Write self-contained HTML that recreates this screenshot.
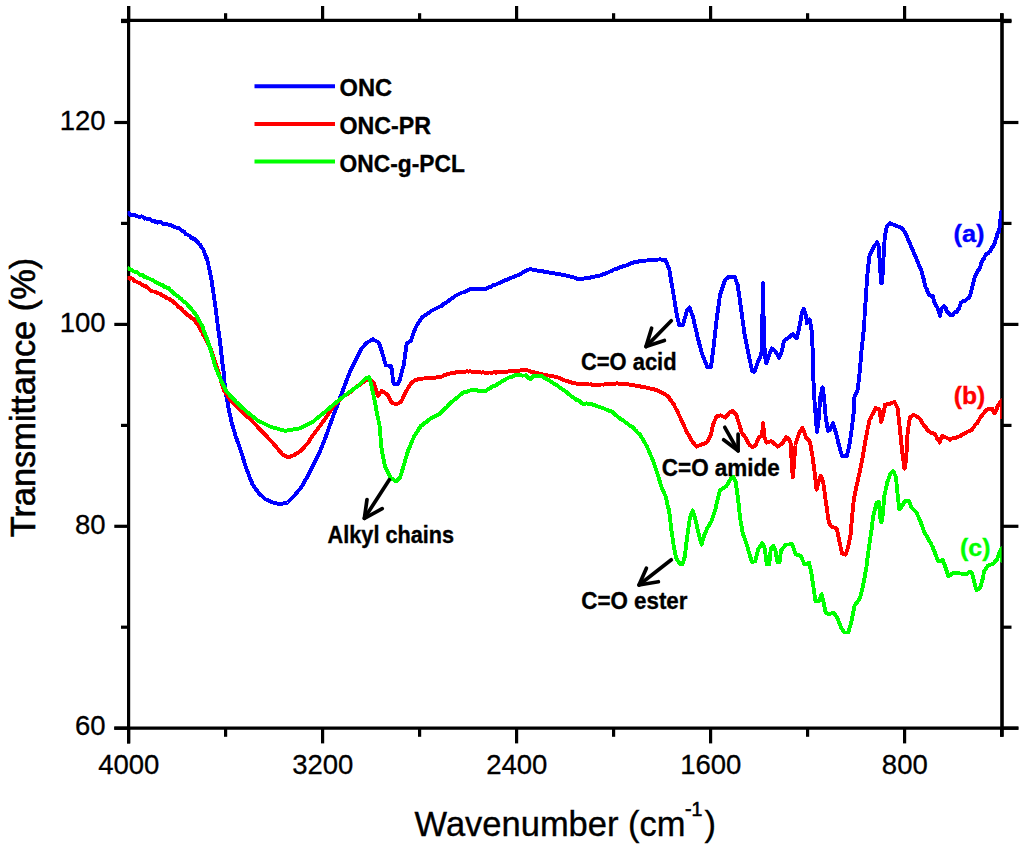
<!DOCTYPE html>
<html lang="en">
<head>
<meta charset="utf-8">
<title>FTIR spectra</title>
<style>
html,body{margin:0;padding:0;background:#fff;}
body{width:1024px;height:851px;overflow:hidden;}
svg{display:block;}
</style>
</head>
<body>
<svg width="1024" height="851" viewBox="0 0 1024 851">
<rect width="1024" height="851" fill="#fff"/>
<g stroke="#000" stroke-width="3.2" fill="none" stroke-linecap="butt">
<line x1="128.6" y1="6" x2="128.6" y2="743.4"/>
<line x1="1002.0" y1="13.2" x2="1002.0" y2="736.8" stroke-width="3.6"/>
<line x1="121" y1="20.3" x2="1011.5" y2="20.3"/>
<line x1="114.3" y1="728.2" x2="1018.4" y2="728.2"/>
<line x1="128.6" y1="728.2" x2="128.6" y2="743.4"/>
<line x1="128.6" y1="20.3" x2="128.6" y2="6"/>
<line x1="322.6" y1="728.2" x2="322.6" y2="743.4"/>
<line x1="322.6" y1="20.3" x2="322.6" y2="6"/>
<line x1="516.6" y1="728.2" x2="516.6" y2="743.4"/>
<line x1="516.6" y1="20.3" x2="516.6" y2="6"/>
<line x1="710.6" y1="728.2" x2="710.6" y2="743.4"/>
<line x1="710.6" y1="20.3" x2="710.6" y2="6"/>
<line x1="904.6" y1="728.2" x2="904.6" y2="743.4"/>
<line x1="904.6" y1="20.3" x2="904.6" y2="6"/>
<line x1="225.6" y1="728.2" x2="225.6" y2="736.8"/>
<line x1="225.6" y1="20.3" x2="225.6" y2="13.2"/>
<line x1="419.6" y1="728.2" x2="419.6" y2="736.8"/>
<line x1="419.6" y1="20.3" x2="419.6" y2="13.2"/>
<line x1="613.6" y1="728.2" x2="613.6" y2="736.8"/>
<line x1="613.6" y1="20.3" x2="613.6" y2="13.2"/>
<line x1="807.6" y1="728.2" x2="807.6" y2="736.8"/>
<line x1="807.6" y1="20.3" x2="807.6" y2="13.2"/>
<line x1="1001.6" y1="728.2" x2="1001.6" y2="736.8"/>
<line x1="1001.6" y1="20.3" x2="1001.6" y2="13.2"/>
<line x1="114.3" y1="728.2" x2="128.6" y2="728.2"/>
<line x1="1002.0" y1="728.2" x2="1018.4" y2="728.2"/>
<line x1="114.3" y1="526.3" x2="128.6" y2="526.3"/>
<line x1="1002.0" y1="526.3" x2="1018.4" y2="526.3"/>
<line x1="114.3" y1="324.4" x2="128.6" y2="324.4"/>
<line x1="1002.0" y1="324.4" x2="1018.4" y2="324.4"/>
<line x1="114.3" y1="122.5" x2="128.6" y2="122.5"/>
<line x1="1002.0" y1="122.5" x2="1018.4" y2="122.5"/>
<line x1="121" y1="627.2" x2="128.6" y2="627.2"/>
<line x1="1002.0" y1="627.2" x2="1011.5" y2="627.2"/>
<line x1="121" y1="425.4" x2="128.6" y2="425.4"/>
<line x1="1002.0" y1="425.4" x2="1011.5" y2="425.4"/>
<line x1="121" y1="223.4" x2="128.6" y2="223.4"/>
<line x1="1002.0" y1="223.4" x2="1011.5" y2="223.4"/>
<line x1="121" y1="21.5" x2="128.6" y2="21.5"/>
<line x1="1002.0" y1="21.5" x2="1011.5" y2="21.5"/>
</g>
<clipPath id="pc"><rect x="127.6" y="22" width="874" height="704.5"/></clipPath>
<g fill="none" stroke-width="3.9" stroke-linejoin="round" stroke-linecap="round" clip-path="url(#pc)" shape-rendering="crispEdges">
<polyline stroke="#0000ff" points="128.6,212.9 129.8,214.7 131.4,215.0 133.0,214.5 134.7,215.3 136.3,215.7 137.9,216.5 139.5,217.1 141.1,216.4 142.8,216.7 144.4,218.7 146.0,218.4 147.7,219.5 149.3,218.6 150.9,219.9 152.5,220.9 154.2,220.5 155.8,222.3 157.4,222.7 159.0,221.7 160.6,222.1 162.3,223.4 163.9,224.5 165.5,224.0 167.2,224.1 168.8,224.9 170.4,224.8 172.1,225.7 173.7,226.7 175.3,227.5 177.0,227.6 178.6,228.2 180.0,229.1 181.4,230.5 182.8,231.1 184.2,231.6 185.6,234.0 187.0,234.4 188.4,235.5 189.8,235.6 191.2,238.0 192.6,238.8 193.9,238.4 195.3,239.8 196.7,241.4 198.1,242.4 199.1,244.3 200.1,244.8 201.1,247.0 202.0,248.2 203.0,249.0 204.0,251.0 204.6,253.2 205.1,254.8 205.7,255.8 206.2,257.6 206.8,258.3 207.3,260.4 207.9,262.5 208.3,264.2 208.6,266.0 209.0,267.7 209.4,269.4 209.7,271.2 210.1,272.9 210.5,274.6 210.8,276.4 211.2,278.1 211.4,279.7 211.7,281.4 211.9,283.0 212.2,284.6 212.4,286.3 212.7,287.9 212.9,289.5 213.2,291.2 213.4,292.8 213.7,294.4 213.9,296.1 214.2,297.7 214.4,299.4 214.6,301.0 214.8,302.7 215.1,304.4 215.3,306.1 215.5,307.7 215.7,309.4 215.9,311.1 216.1,312.7 216.3,314.4 216.6,316.1 216.8,317.8 217.0,319.4 217.2,321.1 217.4,322.8 217.6,324.4 217.9,326.1 218.1,327.7 218.3,329.4 218.5,331.0 218.8,332.7 219.0,334.3 219.2,336.0 219.4,337.6 219.7,339.3 219.9,340.9 220.1,342.6 220.3,344.2 220.5,345.9 220.7,347.5 220.8,349.2 221.0,350.8 221.2,352.5 221.4,354.1 221.6,355.8 221.8,357.4 221.9,359.1 222.1,360.7 222.3,362.4 222.5,364.0 222.8,365.8 223.0,367.6 223.3,369.4 223.5,371.2 223.8,373.0 223.9,374.7 224.1,376.4 224.2,378.1 224.4,379.8 224.5,381.5 224.6,383.2 224.8,384.9 224.9,386.6 225.1,388.3 225.2,390.0 225.5,391.7 225.8,393.5 226.2,395.2 226.5,396.9 226.8,398.7 227.1,400.4 227.5,402.1 227.8,403.9 228.1,405.6 228.4,407.3 228.8,409.1 229.2,410.8 229.5,412.6 229.8,414.3 230.2,416.0 230.6,417.8 230.9,419.5 231.2,421.2 231.7,422.8 232.2,424.4 232.6,425.9 233.1,427.5 233.6,429.1 234.0,430.6 234.5,432.2 235.0,433.8 235.4,435.3 235.9,436.9 236.5,438.5 237.0,440.0 237.6,441.6 238.1,443.1 238.7,444.7 239.2,446.3 239.8,447.8 240.3,449.4 240.8,450.9 241.4,452.5 241.9,454.1 242.3,455.6 242.8,457.2 243.3,458.7 243.8,460.3 244.2,461.9 244.7,463.4 245.2,465.0 245.6,466.5 246.1,468.1 246.7,469.7 247.3,471.2 248.0,472.8 248.6,474.4 249.2,475.9 249.8,477.5 250.4,479.1 251.1,480.6 251.7,482.2 252.3,483.8 253.2,485.1 254.1,486.4 255.0,487.8 255.9,489.1 256.8,490.4 257.7,491.8 258.6,493.1 260.0,494.4 261.4,495.6 262.8,496.9 264.2,498.1 265.6,499.4 267.2,500.0 268.7,500.7 270.3,501.4 271.9,502.0 273.4,502.6 275.0,503.3 277.1,503.5 279.2,503.8 281.2,504.0 282.8,503.6 284.4,503.2 285.9,502.9 287.5,502.5 288.8,501.2 290.0,500.0 291.2,498.8 292.5,497.5 293.8,496.2 294.9,494.9 296.0,493.6 297.1,492.2 298.2,490.9 299.4,489.6 300.5,488.2 301.6,486.9 302.5,485.3 303.4,483.8 304.3,482.2 305.1,480.6 306.0,479.0 306.9,477.5 307.8,475.9 308.6,474.3 309.4,472.8 310.1,471.2 310.9,469.7 311.7,468.1 312.5,466.5 313.3,465.0 314.0,463.4 314.8,461.9 315.6,460.3 316.4,458.7 317.2,457.2 317.9,455.6 318.7,454.1 319.5,452.5 320.1,450.9 320.8,449.4 321.4,447.8 322.0,446.3 322.6,444.7 323.3,443.1 323.9,441.6 324.5,440.0 325.2,438.5 325.8,436.9 326.3,435.3 326.9,433.8 327.4,432.2 328.0,430.6 328.5,429.1 329.1,427.5 329.6,425.9 330.2,424.4 330.7,422.8 331.2,421.2 331.8,419.7 332.4,418.1 333.0,416.6 333.6,415.0 334.2,413.4 334.8,411.9 335.4,410.3 336.0,408.7 336.6,407.2 337.2,405.6 337.8,404.0 338.4,402.5 338.9,400.9 339.5,399.4 340.1,397.8 340.7,396.2 341.3,394.7 341.8,393.1 342.4,391.6 343.0,390.0 343.6,388.5 344.1,387.0 344.7,385.5 345.3,384.0 345.8,382.5 346.4,381.0 347.0,379.5 347.6,378.0 348.1,376.5 348.7,375.0 349.3,373.5 349.8,372.0 350.4,370.5 351.2,369.0 351.9,367.5 352.7,366.0 353.5,364.5 354.2,363.0 355.0,361.5 355.7,360.0 356.5,358.5 357.2,357.0 357.9,355.6 358.7,354.1 359.4,352.6 360.2,351.1 360.9,349.6 362.0,348.2 363.1,346.9 364.3,345.5 365.4,344.2 366.5,342.8 368.1,341.9 369.8,341.1 371.4,340.2 373.0,339.4 374.4,340.2 375.9,340.9 377.4,341.7 378.8,342.5 379.4,344.2 380.0,345.9 380.6,347.6 381.1,349.3 381.7,351.0 382.3,352.7 382.7,354.3 383.1,355.8 383.6,357.4 384.0,358.9 384.4,360.5 384.9,362.1 385.3,363.6 385.7,365.2 387.5,365.5 389.2,365.9 391.0,366.2 391.4,368.1 391.9,370.1 392.3,372.0 392.4,373.8 392.5,375.6 392.6,377.4 392.7,379.2 392.8,381.0 393.4,382.6 394.0,384.3 395.8,384.3 397.6,384.3 398.6,382.4 399.6,380.5 400.0,378.9 400.4,377.3 400.9,375.7 401.3,374.1 401.7,372.5 402.1,370.9 402.5,369.3 403.0,367.7 403.4,366.1 403.8,364.5 404.0,362.8 404.2,361.2 404.5,359.5 404.7,357.8 404.9,356.2 405.1,354.5 405.4,352.8 405.6,351.2 405.8,349.5 406.2,347.4 406.5,345.3 406.9,343.2 408.9,342.1 410.8,341.0 411.4,339.3 411.9,337.7 412.5,336.0 413.0,334.4 413.6,332.7 414.4,330.8 415.1,328.9 415.9,327.0 416.9,325.4 417.9,323.9 418.9,322.3 419.8,320.7 420.8,319.2 421.8,317.6 423.2,316.6 424.6,315.6 426.0,314.6 427.4,313.7 428.8,312.7 430.2,311.7 431.6,310.7 433.2,309.9 434.8,309.1 436.5,308.3 438.1,307.5 439.7,306.7 441.3,306.1 442.7,304.8 444.2,303.6 445.6,302.9 447.0,302.0 448.5,300.9 449.9,299.7 451.3,298.7 452.7,297.7 454.2,296.9 455.6,295.7 457.2,294.9 458.7,294.3 460.3,293.3 461.9,292.6 463.4,292.4 465.0,291.9 466.6,290.9 468.1,290.1 469.7,289.3 471.2,288.8 473.0,289.2 474.7,289.1 476.4,289.0 478.1,289.3 479.8,288.9 481.5,289.1 483.2,289.5 484.9,289.3 486.4,288.5 487.9,287.7 489.5,287.2 491.0,286.8 492.5,285.4 494.0,285.3 495.6,284.6 497.1,284.0 498.6,283.2 500.1,282.6 501.6,281.8 503.1,281.2 504.6,280.5 506.1,279.7 507.6,279.7 509.1,278.8 510.6,278.0 512.1,277.6 513.6,277.0 515.1,276.3 516.6,275.7 518.1,275.2 519.6,274.5 521.0,273.7 522.5,272.8 524.0,271.7 525.4,271.1 526.9,270.2 528.3,269.7 529.8,269.2 531.4,269.4 532.9,269.8 534.5,270.1 536.1,270.0 537.6,270.8 539.2,271.0 540.8,270.9 542.4,271.2 543.9,271.5 545.5,272.4 547.1,272.3 548.8,272.4 550.4,273.0 552.0,273.1 553.6,273.1 555.2,273.5 556.9,274.0 558.5,274.0 560.1,274.3 561.8,274.8 563.4,274.9 565.0,275.1 566.7,275.7 568.4,275.8 570.1,276.5 571.9,277.0 573.6,277.4 575.3,277.8 577.0,278.8 578.7,279.0 580.3,278.6 581.9,278.8 583.5,278.8 585.2,278.1 586.8,277.9 588.4,277.9 590.0,277.9 591.5,277.1 593.1,277.1 594.6,276.7 596.2,276.2 597.8,275.6 599.3,275.7 600.9,275.2 602.4,274.6 604.0,274.0 605.6,273.6 607.1,272.7 608.7,272.2 610.3,271.3 611.9,270.8 613.4,269.8 615.0,269.2 616.6,269.0 618.1,268.3 619.7,267.2 621.3,267.0 622.9,266.1 624.6,266.1 626.2,265.4 627.8,264.7 629.4,264.0 631.0,263.3 632.6,263.4 634.2,262.3 635.9,262.4 637.5,261.9 639.1,261.1 640.8,260.7 642.5,261.1 644.2,261.0 645.9,260.6 647.6,260.4 649.3,260.1 651.0,259.9 652.7,259.7 654.5,260.0 656.3,259.7 658.1,259.5 660.0,259.4 661.8,259.6 663.6,259.6 665.4,259.5 666.0,261.1 666.7,262.8 667.3,264.4 668.0,266.0 668.6,267.7 669.3,269.3 669.6,271.0 669.9,272.6 670.1,274.3 670.4,276.0 670.7,277.7 671.0,279.3 671.2,281.0 671.5,282.7 671.8,284.3 672.1,286.0 672.4,287.7 672.6,289.4 672.9,291.0 673.2,292.7 673.5,294.4 673.8,296.1 674.0,297.7 674.3,299.4 674.6,301.1 674.9,302.8 675.2,304.4 675.4,306.1 675.7,307.8 676.0,309.5 676.3,311.2 676.5,312.8 676.8,314.5 677.1,316.2 677.5,318.0 677.9,319.7 678.3,321.5 678.7,323.2 679.1,325.0 681.0,325.0 683.0,325.0 683.4,323.4 683.9,321.7 684.3,320.1 684.7,318.5 685.2,316.8 685.6,315.2 686.0,313.6 686.5,311.9 686.9,310.3 688.2,308.9 689.5,307.4 690.2,309.2 690.8,310.9 691.5,312.7 692.1,314.4 692.8,316.2 693.2,317.9 693.6,319.5 693.9,321.2 694.3,322.8 694.7,324.5 695.1,326.1 695.4,327.8 695.8,329.4 696.2,331.1 696.6,332.7 696.9,334.4 697.3,336.0 697.7,337.7 698.1,339.3 698.6,340.9 699.0,342.5 699.4,344.1 699.9,345.7 700.3,347.2 700.8,348.8 701.2,350.4 701.6,352.0 702.1,353.6 702.5,355.2 703.2,356.9 703.9,358.6 704.6,360.3 705.3,361.9 706.0,363.6 706.7,365.3 707.4,367.0 709.1,367.0 710.9,367.0 711.1,365.4 711.3,363.8 711.6,362.2 711.8,360.6 712.0,359.0 712.2,357.4 712.4,355.8 712.6,354.2 712.9,352.6 713.1,351.0 713.3,349.4 713.5,347.8 713.7,346.1 713.9,344.5 714.0,342.8 714.2,341.2 714.4,339.5 714.6,337.9 714.8,336.2 715.0,334.6 715.1,332.9 715.3,331.3 715.5,329.6 715.7,328.0 715.9,326.3 716.1,324.7 716.2,323.0 716.4,321.4 716.6,319.7 716.8,318.1 717.0,316.4 717.3,314.8 717.5,313.1 717.7,311.4 718.0,309.7 718.2,308.1 718.5,306.4 718.7,304.7 718.9,303.1 719.2,301.4 719.4,299.7 719.6,298.0 719.9,296.4 720.1,294.7 720.6,293.1 721.2,291.4 721.7,289.8 722.3,288.2 722.8,286.5 723.4,284.9 723.9,283.3 724.5,281.6 725.0,280.0 726.3,278.9 727.6,277.8 728.9,276.7 730.9,276.8 732.8,277.0 734.8,277.1 735.4,278.7 736.0,280.2 736.5,281.8 737.1,283.3 737.7,284.9 737.9,286.6 738.2,288.3 738.4,289.9 738.6,291.6 738.9,293.3 739.1,295.0 739.4,296.6 739.6,298.3 739.8,300.0 740.1,301.7 740.3,303.4 740.5,305.0 740.8,306.7 741.0,308.4 741.2,310.1 741.5,311.8 741.7,313.5 741.9,315.2 742.2,316.8 742.4,318.5 742.6,320.2 742.9,321.9 743.1,323.6 743.3,325.3 743.6,327.0 743.8,328.7 744.0,330.4 744.3,332.1 744.5,333.8 744.8,335.4 745.2,337.1 745.5,338.7 745.8,340.4 746.2,342.0 746.5,343.6 746.8,345.3 747.1,346.9 747.5,348.6 747.8,350.2 748.1,351.9 748.5,353.6 748.8,355.2 749.1,356.8 749.4,358.3 749.8,359.9 750.1,361.5 750.4,363.0 750.7,364.6 751.0,366.2 751.4,367.8 751.7,369.3 752.0,370.9 754.3,371.8 754.9,370.3 755.4,368.7 756.0,367.2 756.5,365.7 757.1,364.2 757.6,362.6 758.2,361.1 759.0,359.5 759.8,357.8 760.5,356.1 761.3,354.5 761.4,352.9 761.5,351.2 761.6,349.6 761.7,347.9 761.8,346.3 761.9,344.6 762.0,343.0 762.0,341.4 762.0,339.7 762.1,338.1 762.1,336.4 762.1,334.8 762.1,333.1 762.2,331.4 762.2,329.8 762.2,328.1 762.2,326.5 762.3,324.9 762.3,323.2 762.3,321.6 762.4,319.9 762.4,318.2 762.4,316.6 762.4,314.9 762.5,313.3 762.5,311.6 762.5,310.0 762.5,308.3 762.6,306.6 762.6,305.0 762.6,303.3 762.7,301.6 762.7,299.9 762.7,298.3 762.8,296.6 762.8,294.9 762.8,293.2 762.9,291.6 762.9,289.9 762.9,288.2 763.0,286.6 763.0,284.9 763.0,283.2 763.1,284.9 763.1,286.5 763.1,288.2 763.2,289.8 763.2,291.5 763.2,293.1 763.2,294.8 763.3,296.5 763.3,298.1 763.3,299.8 763.3,301.4 763.4,303.1 763.4,304.7 763.4,306.4 763.4,308.1 763.5,309.7 763.5,311.4 763.5,313.0 763.5,314.7 763.6,316.3 763.6,318.0 763.6,319.6 763.7,321.3 763.7,322.9 763.8,324.6 763.8,326.2 763.9,327.9 763.9,329.5 764.0,331.2 764.0,332.8 764.1,334.5 764.1,336.1 764.2,337.8 764.2,339.4 764.3,341.1 764.3,342.7 764.4,344.4 764.4,346.0 764.5,347.7 764.7,349.4 764.8,351.1 764.9,352.9 765.0,354.6 765.2,356.3 765.3,358.0 765.6,359.7 765.9,361.4 766.2,363.1 766.8,361.6 767.4,360.0 768.0,358.4 768.6,356.9 769.2,355.2 769.8,353.5 770.5,351.7 771.1,350.0 771.7,348.3 773.0,349.3 774.3,350.4 775.6,351.4 776.4,353.0 777.2,354.5 778.0,356.1 778.8,357.7 779.9,355.7 781.1,353.8 781.5,352.1 781.9,350.4 782.3,348.8 782.7,347.1 783.0,345.5 783.4,343.8 783.8,342.2 784.2,340.5 785.8,339.4 787.3,338.4 788.9,337.3 790.2,336.3 791.5,335.2 792.8,334.2 794.1,335.5 795.4,336.8 796.7,338.1 797.1,336.5 797.5,335.0 797.9,333.4 798.3,331.9 798.7,330.3 799.1,328.8 799.4,327.0 799.7,325.3 800.0,323.5 800.3,321.8 800.7,320.1 801.0,318.3 801.3,316.6 801.6,314.8 801.9,313.1 802.5,311.6 803.1,310.0 803.8,308.5 804.3,310.3 804.9,312.1 805.5,313.8 806.1,315.6 806.3,317.5 806.5,319.5 806.7,321.4 806.9,323.3 807.8,322.0 808.8,320.7 809.7,319.4 810.0,321.2 810.3,323.0 810.7,324.9 811.0,326.7 811.3,328.5 811.6,330.3 811.7,332.0 811.8,333.7 811.9,335.4 812.0,337.0 812.1,338.7 812.2,340.4 812.2,342.1 812.3,343.8 812.4,345.5 812.5,347.1 812.6,348.8 812.7,350.5 812.8,352.2 812.8,353.9 812.9,355.5 812.9,357.2 812.9,358.8 813.0,360.5 813.0,362.1 813.0,363.8 813.1,365.4 813.1,367.1 813.2,368.7 813.2,370.4 813.2,372.0 813.3,373.7 813.3,375.3 813.3,377.0 813.4,378.6 813.4,380.3 813.5,382.0 813.6,383.7 813.7,385.3 813.8,387.0 813.9,388.7 814.0,390.4 814.0,392.0 814.1,393.7 814.2,395.4 814.3,397.1 814.4,398.7 814.5,400.4 814.6,402.1 814.7,403.8 814.8,405.5 815.0,407.2 815.1,408.9 815.3,410.6 815.4,412.3 815.5,414.0 815.7,415.7 815.8,417.4 816.0,419.1 816.1,420.8 816.2,422.5 816.4,424.4 816.5,426.3 816.7,428.2 816.9,430.1 817.0,432.0 817.2,430.2 817.5,428.4 817.7,426.6 817.9,424.8 818.1,423.0 818.4,421.2 818.6,419.4 818.7,417.7 818.8,416.0 819.0,414.3 819.1,412.7 819.2,411.0 819.3,409.3 819.5,407.6 819.6,405.9 819.7,404.2 819.8,402.6 820.0,400.9 820.1,399.2 820.2,397.5 820.6,395.8 821.0,394.1 821.4,392.4 821.7,390.7 822.1,389.0 822.5,387.3 822.8,389.0 823.0,390.7 823.3,392.4 823.6,394.1 823.8,395.8 824.1,397.5 824.2,399.2 824.4,400.9 824.5,402.6 824.6,404.3 824.8,406.0 824.9,407.7 825.1,409.4 825.2,411.1 825.3,412.8 825.5,414.5 825.6,416.2 825.9,417.9 826.1,419.6 826.4,421.2 826.7,422.9 826.9,424.5 827.2,426.2 827.5,427.8 827.7,429.5 828.0,431.1 830.3,429.2 830.9,427.6 831.6,426.1 832.2,424.6 832.9,423.0 833.4,424.6 833.9,426.1 834.3,427.6 834.8,429.2 835.3,430.8 835.8,432.3 836.2,433.9 836.6,435.5 837.0,437.1 837.3,438.6 837.7,440.2 838.1,441.8 838.5,443.4 838.9,445.0 839.3,446.6 839.8,448.2 840.2,449.8 840.7,451.4 841.1,453.0 841.6,454.6 842.0,456.2 844.4,456.2 846.7,456.2 847.1,454.7 847.5,453.1 847.9,451.6 848.3,450.0 848.7,448.5 849.1,446.9 849.4,445.2 849.6,443.4 849.9,441.7 850.1,439.9 850.4,438.2 850.6,436.5 850.9,434.7 851.1,433.0 851.4,431.2 851.6,429.5 851.8,427.8 852.0,426.1 852.3,424.4 852.5,422.7 852.7,421.0 852.9,419.3 853.1,417.6 853.3,415.9 853.5,414.2 853.8,412.5 853.8,410.7 853.9,409.0 854.0,407.2 854.1,405.5 854.2,403.7 854.2,402.0 854.3,400.2 854.4,398.5 854.5,396.7 855.3,394.9 856.1,393.2 856.9,391.4 857.7,389.7 857.9,388.0 858.1,386.3 858.3,384.6 858.5,382.9 858.7,381.2 858.9,379.5 859.0,377.9 859.2,376.2 859.4,374.5 859.6,372.8 859.8,371.1 860.0,369.4 860.1,367.7 860.3,366.0 860.4,364.3 860.5,362.6 860.7,360.9 860.8,359.2 860.9,357.6 861.1,355.9 861.2,354.2 861.3,352.5 861.5,350.8 861.6,349.1 861.8,347.4 862.0,345.7 862.2,344.0 862.4,342.3 862.6,340.6 862.8,338.9 862.9,337.2 863.1,335.5 863.3,333.8 863.5,332.1 863.7,330.4 863.9,328.8 864.0,327.1 864.1,325.5 864.2,323.9 864.3,322.3 864.4,320.7 864.5,319.1 864.5,317.5 864.6,315.8 864.7,314.2 864.8,312.6 864.9,311.0 865.0,309.4 865.1,307.7 865.2,306.0 865.3,304.3 865.5,302.6 865.6,300.9 865.7,299.1 865.8,297.4 865.9,295.7 866.0,294.0 866.1,292.3 866.2,290.6 866.4,288.9 866.5,287.2 866.6,285.5 866.8,283.8 866.9,282.1 867.0,280.5 867.2,278.8 867.3,277.1 867.4,275.4 867.5,273.7 867.7,272.0 867.8,270.3 868.0,268.5 868.2,266.8 868.4,265.0 868.6,263.3 868.8,261.5 869.0,259.8 869.2,258.0 869.4,256.2 870.2,254.5 871.0,252.8 871.7,251.1 872.5,249.4 873.3,247.7 874.3,246.3 875.2,244.9 876.2,243.6 877.2,242.2 877.7,243.8 878.2,245.3 878.8,246.9 878.9,248.6 879.0,250.3 879.1,252.0 879.2,253.7 879.3,255.4 879.4,257.1 879.5,258.8 879.7,260.5 879.8,262.2 879.9,263.9 880.0,265.6 880.1,267.3 880.2,269.0 880.3,270.8 880.4,272.5 880.5,274.2 880.7,275.9 880.8,277.6 880.9,279.4 881.0,281.1 881.1,282.8 882.2,282.8 882.3,281.1 882.4,279.5 882.5,277.8 882.5,276.1 882.6,274.4 882.7,272.8 882.8,271.1 882.9,269.4 883.0,267.8 883.1,266.1 883.1,264.4 883.2,262.7 883.3,261.1 883.4,259.4 883.5,257.7 883.6,256.0 883.7,254.3 883.8,252.7 883.9,251.0 884.0,249.3 884.1,247.6 884.2,245.9 884.3,244.2 884.4,242.6 884.5,240.9 884.6,239.2 884.7,237.5 885.1,235.7 885.4,233.9 885.8,232.1 886.2,230.2 886.5,228.4 886.9,226.6 888.3,224.8 889.7,223.1 891.2,223.8 892.8,224.4 894.4,225.1 895.9,225.8 897.5,226.4 899.0,226.9 900.6,227.5 902.2,228.1 903.2,229.7 904.3,231.2 905.3,232.8 906.0,234.4 906.6,235.9 907.3,237.5 908.0,239.1 908.7,240.6 909.3,242.2 910.0,243.8 910.7,245.3 911.3,246.9 912.0,248.4 912.7,250.0 913.4,251.6 914.0,253.1 914.7,254.7 915.3,256.3 916.0,257.8 916.6,259.4 917.3,261.0 917.9,262.5 918.6,264.1 919.2,265.6 919.9,267.2 920.5,268.8 921.2,270.3 921.8,271.9 922.2,273.5 922.6,275.0 923.0,276.6 923.4,278.1 923.8,279.7 924.1,281.3 924.5,282.8 924.9,284.4 925.3,285.9 925.7,287.8 926.5,288.7 927.2,290.6 928.0,291.8 928.8,294.5 930.8,295.7 932.8,296.1 933.2,297.8 933.7,299.5 934.2,301.3 934.6,303.0 935.1,303.7 936.1,305.7 937.2,307.5 938.2,309.4 938.7,311.2 939.3,313.0 939.8,315.8 940.4,313.6 941.0,311.0 941.5,309.0 942.1,308.1 944.0,306.2 944.9,307.9 945.8,308.3 946.7,310.9 947.6,312.1 948.9,313.0 950.2,315.3 951.5,315.1 952.8,315.0 954.1,312.7 955.4,311.8 957.0,311.8 958.5,308.8 959.1,308.3 959.7,306.5 960.3,305.4 960.9,302.8 962.5,301.7 964.0,300.6 965.6,300.7 966.8,299.0 967.9,298.6 969.1,297.2 970.2,295.3 970.6,293.7 971.0,292.2 971.4,290.6 971.8,289.0 972.2,287.5 972.6,285.9 973.1,284.0 973.5,282.2 974.0,280.3 974.4,278.5 974.9,275.9 975.9,275.1 976.8,272.7 977.8,271.0 978.8,269.4 979.3,269.5 979.9,267.7 980.4,266.3 980.9,263.7 981.5,262.7 982.0,261.5 983.0,259.3 984.0,258.3 984.9,256.3 985.9,254.7 987.1,253.7 988.2,253.5 989.4,251.5 990.6,250.9 991.6,248.4 992.5,246.4 993.5,245.9 994.5,243.8 995.0,242.2 995.4,240.6 995.9,239.0 996.3,237.5 996.8,236.6 997.6,233.1 998.4,232.6 999.2,230.5 999.4,228.8 999.6,227.1 999.9,225.4 1000.1,223.7 1000.3,222.0 1000.4,220.2 1000.5,218.4 1000.7,216.6 1000.8,214.8 1000.9,212.2 1002.0,211.5 1002.0,214.0"/>
<polyline stroke="#ff0000" points="128.6,278.2 129.8,278.8 131.4,278.2 133.0,279.1 134.7,281.1 136.3,281.7 137.9,282.5 139.5,282.7 140.9,284.0 142.3,284.9 143.7,285.7 145.1,285.8 146.5,287.1 147.9,287.9 149.3,289.3 150.9,290.6 152.5,291.4 154.2,291.6 155.8,292.3 157.4,292.9 159.0,293.4 160.6,294.1 162.3,295.5 163.9,296.1 165.5,296.9 167.2,298.5 168.8,298.6 170.2,299.8 171.6,300.4 173.0,301.2 174.4,302.8 175.8,303.6 177.2,305.3 178.6,307.2 179.8,307.8 181.1,308.1 182.3,310.3 183.5,311.3 184.7,312.3 185.9,313.7 187.2,314.5 188.4,315.7 189.8,315.9 191.3,317.9 192.8,318.9 194.2,318.6 195.2,321.0 196.1,322.4 197.1,323.5 198.1,325.0 198.9,326.4 199.7,328.5 200.5,329.2 201.2,331.1 202.0,331.8 202.8,334.0 203.6,335.4 204.3,336.2 205.1,337.7 205.8,339.2 206.6,340.6 207.3,342.1 208.1,343.6 208.8,345.0 209.6,346.5 210.3,348.0 210.9,349.5 211.6,351.0 212.1,352.5 212.6,354.1 213.1,355.6 213.6,357.2 214.1,358.7 214.6,360.2 215.1,361.8 215.6,363.3 216.1,364.9 216.6,366.4 217.1,368.0 217.6,369.5 218.1,371.1 218.6,372.7 219.1,374.3 219.6,376.0 220.1,377.6 220.6,379.2 221.0,380.8 221.5,382.4 222.0,384.0 222.5,385.7 223.0,387.3 223.5,388.9 224.0,390.5 225.0,392.0 226.1,393.5 227.1,395.0 228.1,396.5 229.2,398.0 230.2,399.5 231.2,401.0 232.4,402.2 233.6,403.3 234.8,404.5 235.9,405.6 237.1,406.8 238.3,408.0 239.4,409.1 240.6,410.3 241.8,411.4 242.9,412.5 244.1,413.6 245.3,414.7 246.4,415.8 247.6,416.9 248.8,418.0 250.0,419.1 251.1,420.2 252.3,421.2 253.4,422.5 254.6,423.7 255.7,424.9 256.9,426.1 258.0,427.3 259.2,428.5 260.3,429.7 261.5,430.9 262.6,432.1 263.8,433.3 264.9,434.5 266.1,435.7 267.2,436.9 268.3,438.1 269.4,439.4 270.5,440.6 271.7,441.8 272.8,443.0 273.9,444.3 275.0,445.5 276.1,446.8 277.2,448.2 278.3,449.5 279.5,450.8 280.6,452.1 281.7,453.5 282.8,454.8 284.6,455.6 286.5,456.4 288.3,457.2 290.1,456.6 291.9,455.9 293.8,455.3 295.3,454.3 296.9,453.3 298.5,452.2 300.0,451.2 301.6,450.2 302.8,448.8 304.1,447.4 305.3,445.9 306.6,444.5 307.8,443.1 308.8,441.6 309.8,440.0 310.7,438.4 311.7,436.9 312.7,435.6 313.6,434.3 314.6,433.0 315.6,431.7 316.6,430.4 317.5,429.1 318.5,427.8 319.5,426.5 320.5,425.2 321.4,423.9 322.4,422.6 323.4,421.2 324.3,419.8 325.3,418.4 326.2,417.0 327.2,415.6 328.1,414.2 329.0,412.8 330.0,411.4 330.9,410.0 331.9,408.6 332.8,407.2 334.0,406.0 335.2,404.8 336.4,403.6 337.7,402.3 338.9,401.1 340.1,399.9 341.3,398.7 342.5,397.5 343.8,396.2 345.3,395.3 346.9,394.3 348.4,393.3 350.0,392.3 351.2,391.3 352.5,390.2 353.8,389.2 355.0,388.1 356.2,387.1 357.6,386.1 359.0,385.2 360.4,384.2 361.8,383.2 363.2,382.2 364.6,381.3 366.0,380.3 367.8,379.5 369.5,378.7 371.0,380.1 372.4,381.6 373.9,383.0 374.4,384.6 374.9,386.2 375.4,387.8 375.9,389.4 376.4,390.9 376.9,392.5 377.4,394.1 377.9,395.7 379.2,394.1 380.5,392.4 381.8,390.8 383.2,391.8 384.7,392.8 386.2,393.7 387.6,394.7 388.4,396.3 389.2,397.8 389.9,399.4 390.7,400.9 391.5,402.5 393.1,403.2 394.8,403.8 396.4,404.5 398.0,403.5 399.7,402.6 401.3,401.6 402.0,400.1 402.7,398.5 403.4,397.0 404.1,395.4 404.8,393.9 405.5,392.4 406.2,391.1 407.2,389.5 408.1,387.9 409.1,386.2 410.1,384.8 411.0,383.6 412.0,381.8 413.5,381.6 414.9,380.4 416.4,380.1 417.9,379.0 419.5,379.3 421.2,378.9 422.8,378.6 424.4,378.4 426.1,378.4 427.7,378.2 429.4,377.8 431.0,377.6 432.7,377.7 434.4,377.8 436.1,377.5 437.7,376.9 439.4,377.3 441.1,376.7 442.7,376.3 444.4,375.2 446.0,375.0 447.7,374.0 449.3,373.9 451.0,373.0 452.7,372.8 454.5,373.0 456.2,372.3 458.0,372.4 459.7,372.4 461.5,371.8 463.2,371.5 465.0,371.8 466.7,371.2 468.3,371.6 470.0,371.2 471.6,371.6 473.2,371.6 474.8,372.1 476.5,371.8 478.1,372.6 479.7,372.0 481.4,372.7 483.0,372.3 484.6,372.6 486.2,373.1 487.9,372.6 489.5,372.5 491.1,372.8 492.8,372.5 494.4,372.2 496.0,372.7 497.7,372.1 499.3,371.9 500.9,372.0 502.5,372.1 504.2,372.2 505.8,371.6 507.4,371.6 509.1,371.2 510.7,371.3 512.3,371.4 513.9,371.2 515.5,371.1 517.2,370.9 518.8,370.8 520.4,370.5 522.0,370.1 523.7,369.8 525.3,369.9 527.1,370.3 528.9,370.7 530.7,371.6 532.5,372.5 534.3,372.3 536.1,373.0 537.9,373.2 539.6,373.7 541.4,373.8 543.2,374.8 545.0,374.6 546.6,375.2 548.1,375.5 549.7,375.5 551.3,376.3 552.8,376.3 554.4,376.6 556.0,377.0 557.5,377.4 559.1,377.7 560.7,378.7 562.2,379.2 563.8,380.1 565.4,380.7 566.9,381.3 568.5,381.3 570.0,382.1 571.6,382.5 573.5,383.1 575.3,383.4 577.2,383.8 579.0,384.0 580.9,384.0 582.6,384.2 584.3,384.4 586.1,384.1 587.8,384.2 589.5,384.5 591.2,384.4 592.9,384.9 594.7,384.7 596.4,384.6 598.1,384.8 599.8,384.7 601.5,384.5 603.2,384.6 604.9,384.4 606.6,384.1 608.4,384.2 610.1,383.8 611.8,384.1 613.5,384.0 615.2,383.7 616.9,383.4 618.6,383.6 620.4,383.8 622.1,383.6 623.8,384.1 625.6,384.3 627.3,384.2 629.0,384.4 630.8,385.0 632.5,384.9 634.3,385.3 636.1,386.0 637.9,386.1 639.6,386.2 641.4,387.0 643.2,386.9 645.0,387.0 646.6,387.8 648.1,387.8 649.7,388.4 651.2,389.1 652.8,389.4 654.4,389.4 655.9,390.1 657.5,390.4 658.9,391.2 660.4,391.8 661.8,392.8 663.2,393.2 664.6,394.1 666.1,395.0 667.5,396.1 668.5,396.9 669.6,398.8 670.6,400.1 671.7,401.5 672.7,403.0 673.8,404.4 674.5,406.0 675.3,407.5 676.1,409.1 676.9,410.6 677.7,412.2 678.4,413.8 679.2,415.3 680.0,416.9 680.7,418.5 681.4,420.0 682.1,421.6 682.8,423.1 683.5,424.7 684.2,426.2 684.9,427.8 685.6,429.3 686.2,430.9 687.1,432.5 688.0,434.0 688.9,435.6 689.8,437.2 690.7,438.8 691.6,440.3 692.5,441.9 693.8,443.5 695.1,445.0 696.4,446.6 698.3,445.8 700.3,445.0 701.9,444.4 703.5,443.9 705.0,443.3 706.6,442.7 707.4,441.3 708.2,439.9 708.9,438.4 709.7,437.0 710.5,435.6 710.9,434.0 711.3,432.5 711.7,430.9 712.0,429.4 712.4,427.8 712.8,426.2 713.2,424.7 713.6,423.1 714.4,421.4 715.2,419.6 715.9,417.9 716.7,416.1 718.7,415.7 720.6,415.3 722.2,416.1 723.7,416.9 725.3,417.7 726.6,416.1 727.9,414.6 729.2,413.0 730.8,411.8 732.3,410.6 733.6,411.9 734.9,413.2 736.2,414.5 736.8,416.2 737.3,417.9 737.8,419.6 738.4,421.3 738.9,423.0 739.4,424.7 739.9,426.3 740.3,427.8 740.8,429.4 741.2,430.9 741.7,432.5 742.7,433.9 743.7,435.2 744.6,436.6 745.6,438.0 746.4,439.4 747.2,440.8 747.9,442.2 748.7,443.6 749.5,445.0 751.1,446.1 752.7,447.3 754.2,446.1 755.8,445.0 756.4,443.4 757.0,441.9 757.7,440.3 758.3,438.8 758.9,437.2 760.5,436.4 762.0,435.6 762.2,433.8 762.3,432.0 762.5,430.2 762.6,428.5 762.8,426.7 762.9,424.9 763.1,423.1 763.3,424.9 763.4,426.6 763.6,428.4 763.8,430.1 763.9,431.9 764.1,433.7 764.2,435.4 764.4,437.2 765.2,439.0 765.9,440.9 766.7,442.7 768.3,442.2 769.8,441.6 771.4,441.1 772.7,442.2 773.9,443.3 775.2,444.4 776.4,445.5 777.7,446.6 779.2,445.5 780.8,444.5 782.3,443.4 783.3,441.8 784.3,440.3 785.3,438.8 786.2,437.2 788.6,438.8 789.5,440.5 790.5,442.2 790.6,443.9 790.7,445.6 790.8,447.3 790.9,449.0 791.0,450.7 791.1,452.4 791.2,454.0 791.3,455.7 791.4,457.4 791.5,459.1 791.6,460.8 791.7,462.5 791.8,464.1 791.9,465.8 792.1,467.4 792.2,469.1 792.3,470.7 792.4,472.4 792.6,474.0 792.7,475.7 792.8,477.3 792.9,475.7 793.1,474.0 793.2,472.4 793.4,470.7 793.5,469.1 793.7,467.4 793.8,465.8 794.0,464.1 794.1,462.5 794.2,460.8 794.4,459.1 794.5,457.4 794.6,455.7 794.8,454.0 794.9,452.3 795.1,450.6 795.2,448.9 795.3,447.2 795.5,445.5 795.6,443.8 796.1,442.2 796.6,440.6 797.1,439.1 797.6,437.5 798.1,435.9 798.6,434.4 799.1,432.8 800.2,431.1 801.4,429.5 802.5,427.8 803.1,429.4 803.7,431.0 804.3,432.6 804.9,434.3 805.5,435.9 806.1,437.5 807.3,438.8 808.5,440.1 809.7,441.4 810.0,443.1 810.4,444.7 810.7,446.4 811.0,448.0 811.3,449.7 811.6,451.4 812.0,453.0 812.3,454.7 812.5,456.4 812.7,458.1 813.0,459.8 813.2,461.5 813.4,463.2 813.6,464.9 813.8,466.6 814.0,468.3 814.3,470.0 814.5,471.7 814.7,473.4 814.9,475.0 815.1,476.7 815.3,478.3 815.5,480.0 815.7,481.6 815.8,483.2 816.0,484.9 816.2,486.5 816.4,488.2 816.6,489.8 817.0,488.1 817.4,486.4 817.8,484.7 818.2,483.0 818.6,481.2 819.4,479.4 820.1,477.6 820.9,475.8 821.5,477.6 822.1,479.3 822.7,481.1 823.3,482.8 823.5,484.5 823.8,486.2 824.0,488.0 824.2,489.7 824.5,491.4 824.7,493.1 824.9,494.8 825.1,496.6 825.4,498.3 825.6,500.0 825.8,501.7 826.1,503.4 826.3,505.1 826.6,506.7 826.8,508.4 827.1,510.1 827.3,511.8 827.5,513.5 827.8,515.2 828.0,516.8 828.3,518.5 828.5,520.2 828.8,521.9 829.5,523.4 830.3,524.8 831.1,526.2 832.9,527.0 834.8,527.8 836.6,528.6 837.0,530.3 837.4,532.0 837.8,533.7 838.1,535.4 838.5,537.1 838.9,538.8 839.2,540.4 839.6,542.0 839.9,543.7 840.3,545.4 840.6,547.0 841.0,548.6 841.3,550.3 841.7,552.0 842.0,553.6 843.8,554.2 845.6,554.7 846.1,553.1 846.7,551.5 847.2,549.8 847.8,548.2 848.3,546.6 848.6,544.8 849.0,543.0 849.3,541.2 849.6,539.5 849.9,537.7 850.3,535.9 850.6,534.1 850.7,532.4 850.9,530.7 851.0,529.1 851.2,527.4 851.3,525.7 851.5,524.0 851.6,522.3 851.8,520.6 851.9,519.0 852.1,517.3 852.2,515.6 852.4,513.9 852.5,512.1 852.7,510.4 852.9,508.7 853.1,506.9 853.2,505.2 853.4,503.5 853.6,501.7 853.8,500.0 854.1,498.3 854.5,496.5 854.8,494.8 855.1,493.1 855.5,491.3 855.9,489.6 856.2,487.9 856.5,486.1 856.9,484.4 857.2,482.8 857.6,481.3 857.9,479.7 858.3,478.1 858.6,476.6 859.0,475.0 859.3,473.4 859.7,471.9 860.0,470.3 860.3,468.6 860.7,466.8 861.0,465.1 861.4,463.4 861.7,461.6 862.1,459.9 862.4,458.2 862.8,456.4 863.1,454.7 863.4,453.0 863.7,451.3 864.0,449.6 864.2,447.9 864.5,446.2 864.8,444.4 865.1,442.7 865.4,441.0 865.7,439.3 866.0,437.6 866.2,435.9 866.6,434.2 867.0,432.4 867.3,430.7 867.6,429.0 868.0,427.2 868.4,425.5 868.7,423.8 869.0,422.0 869.4,420.3 870.2,418.8 871.0,417.2 871.7,415.7 872.5,414.2 873.3,412.7 874.0,411.2 874.8,409.6 875.6,408.1 877.5,408.8 879.5,409.4 879.7,411.2 880.0,413.0 880.2,414.8 880.4,416.5 880.6,418.3 880.9,420.1 881.1,421.9 881.6,420.3 882.0,418.8 882.5,417.2 882.9,415.7 883.4,414.1 883.7,412.2 884.0,410.3 884.4,408.5 884.7,406.6 885.0,404.7 887.4,404.3 889.7,403.9 891.3,403.2 892.8,402.6 894.4,401.9 895.2,403.4 896.0,404.9 896.7,406.3 897.5,407.8 897.7,409.5 897.9,411.2 898.1,412.9 898.3,414.6 898.5,416.3 898.6,418.0 898.8,419.6 899.0,421.3 899.2,423.0 899.4,424.7 899.6,426.4 899.8,428.1 900.0,429.8 900.1,431.5 900.3,433.1 900.5,434.8 900.7,436.5 900.8,438.2 901.0,439.9 901.2,441.5 901.3,443.2 901.5,444.9 901.7,446.6 901.9,448.2 902.0,449.9 902.2,451.6 902.4,453.3 902.7,455.0 902.9,456.7 903.1,458.5 903.4,460.2 903.6,461.9 903.8,463.6 904.0,465.3 904.3,467.0 904.5,468.8 904.8,466.9 905.1,465.0 905.5,463.1 905.8,461.3 906.1,459.4 906.2,457.7 906.3,456.1 906.4,454.4 906.5,452.8 906.6,451.1 906.7,449.5 906.8,447.8 906.9,446.2 906.9,444.5 907.0,442.8 907.1,441.2 907.2,439.5 907.3,437.9 907.4,436.2 907.5,434.6 907.6,432.9 907.7,431.2 908.0,429.5 908.3,427.7 908.6,426.0 908.9,424.2 909.1,422.5 909.4,420.7 909.7,419.0 910.0,417.2 912.0,416.0 913.9,414.8 915.3,415.7 916.7,416.6 918.1,417.5 919.5,418.4 920.5,420.0 921.5,421.5 922.4,423.1 923.4,424.7 924.6,426.2 925.8,427.4 926.9,429.5 928.1,430.7 929.6,431.6 931.2,432.9 932.8,433.2 934.3,433.6 935.3,435.1 936.4,436.6 937.4,439.2 938.6,440.5 939.8,442.5 940.4,440.6 941.0,438.1 941.5,437.4 942.1,436.0 943.7,436.7 945.2,437.2 946.8,437.8 948.4,438.7 949.9,439.9 951.5,438.6 953.0,438.3 954.6,437.6 956.2,437.7 957.8,436.8 959.3,436.4 960.9,435.7 962.4,434.4 964.0,433.7 965.6,433.1 967.1,431.9 968.7,431.2 970.2,430.6 971.8,430.0 972.8,428.2 973.9,427.2 975.0,424.9 976.0,424.0 977.0,423.6 978.1,421.1 979.0,419.9 980.0,417.9 980.9,416.3 981.8,415.9 982.8,414.4 984.3,412.6 985.9,410.6 987.4,409.5 989.0,408.9 990.5,409.0 992.1,408.6 992.9,410.0 993.7,412.0 994.5,413.2 995.3,412.0 996.0,410.9 996.8,408.8 997.6,406.1 998.4,405.2 999.2,404.1 999.9,401.9 1000.7,401.4 1002.0,399.8 1002.0,401.4 1002.0,403.0 1002.0,404.6 1002.0,406.2 1002.0,407.8 1002.0,409.5 1002.0,411.1 1002.0,412.7 1002.0,414.3 1002.0,415.9 1002.0,417.5"/>
<polyline stroke="#00ff00" points="128.6,268.4 129.8,269.4 131.4,270.0 133.0,271.1 134.7,271.9 136.3,272.0 137.9,272.8 139.5,274.6 141.1,274.6 142.8,275.3 144.4,276.9 146.0,277.0 147.7,278.2 149.3,278.5 150.9,279.5 152.5,279.8 154.2,281.2 155.8,282.3 157.4,282.8 159.0,283.9 160.6,284.7 162.3,284.8 163.9,286.6 165.5,287.2 167.2,287.8 168.8,288.3 170.2,290.5 171.6,291.1 173.0,292.5 174.4,293.8 175.8,294.7 177.2,296.1 178.6,296.6 179.8,298.2 181.1,298.8 182.3,300.5 183.5,301.6 184.7,301.7 185.9,302.9 187.2,304.1 188.4,306.1 189.5,306.8 190.6,308.4 191.7,309.4 192.9,311.1 194.0,312.3 195.1,313.6 196.2,315.3 197.0,316.7 197.9,318.5 198.7,319.6 199.5,321.3 200.3,322.6 201.2,324.2 202.0,325.2 202.5,326.1 203.1,328.5 203.6,330.1 204.2,331.6 204.7,332.7 205.3,334.1 205.8,335.7 206.4,337.2 206.9,338.7 207.4,340.3 208.0,341.9 208.5,343.5 209.1,345.2 209.6,346.8 210.2,348.4 210.7,350.0 211.1,351.6 211.6,353.2 212.0,354.8 212.5,356.4 212.9,358.0 213.4,359.6 213.8,361.2 214.3,362.8 214.7,364.4 215.2,366.0 215.6,367.6 216.3,369.1 216.9,370.6 217.6,372.2 218.2,373.7 218.9,375.2 219.5,376.7 220.2,378.2 220.8,379.7 221.5,381.2 222.2,382.7 223.0,384.2 223.7,385.7 224.4,387.2 225.1,388.6 225.9,390.1 226.6,391.6 227.8,392.9 228.9,394.1 230.1,395.4 231.2,396.6 232.4,397.9 233.6,399.2 234.7,400.4 235.9,401.7 237.1,402.8 238.3,404.0 239.6,405.1 240.8,406.2 242.0,407.4 243.2,408.5 244.5,409.6 245.7,410.8 246.9,411.9 248.3,413.0 249.6,414.0 251.0,415.1 252.4,416.2 253.7,417.3 255.1,418.4 256.4,419.4 257.8,420.5 259.4,421.3 260.9,422.1 262.5,422.8 264.1,423.6 265.6,424.4 267.2,425.1 268.7,425.9 270.3,426.7 272.0,427.2 273.6,427.6 275.3,428.1 276.9,428.6 278.6,429.0 280.2,429.5 281.9,430.0 283.5,430.4 285.2,430.9 286.8,430.6 288.5,430.3 290.1,430.0 291.8,429.7 293.4,429.5 295.1,429.2 296.7,428.9 298.4,428.6 300.0,428.3 301.6,427.5 303.1,426.7 304.7,425.9 306.2,425.1 307.8,424.4 309.4,423.6 310.9,422.8 312.5,422.0 313.8,421.0 315.0,420.0 316.2,419.0 317.5,418.0 318.8,416.9 320.0,415.9 321.2,414.9 322.5,413.9 323.8,412.9 325.0,411.9 326.4,410.7 327.7,409.5 329.1,408.4 330.4,407.2 331.8,406.0 333.2,404.9 334.5,403.7 335.9,402.5 337.3,401.4 338.6,400.4 340.0,399.3 341.4,398.2 342.8,397.1 344.1,396.0 345.5,395.0 346.9,393.9 348.2,392.9 349.5,392.0 350.9,391.1 352.2,390.1 353.5,389.1 354.9,388.2 356.2,387.2 357.5,386.3 358.7,385.2 359.9,384.0 361.1,382.9 362.4,381.7 363.6,380.6 364.8,379.4 366.0,378.3 367.6,377.8 369.3,377.3 369.8,379.1 370.2,380.8 370.6,382.6 371.1,384.4 371.6,386.1 372.0,387.9 372.3,389.5 372.6,391.1 373.0,392.8 373.3,394.4 373.6,396.0 373.9,397.6 374.3,399.3 374.6,400.9 374.9,402.5 375.2,404.1 375.6,405.8 375.9,407.4 376.2,409.0 376.5,410.7 376.9,412.3 377.2,413.9 377.5,415.6 377.9,417.2 378.2,418.8 378.5,420.5 378.8,422.1 379.1,423.7 379.5,425.4 379.8,427.0 379.9,428.6 380.0,430.2 380.1,431.9 380.3,433.5 380.4,435.1 380.5,436.8 380.6,438.4 380.7,440.0 380.9,441.6 381.0,443.2 381.1,444.9 381.2,446.5 381.5,448.2 381.8,450.0 382.1,451.8 382.4,453.5 382.7,455.2 383.0,457.0 383.4,458.7 383.7,460.4 384.1,462.1 384.5,463.9 384.8,465.6 385.2,467.3 386.0,468.8 386.9,470.4 387.7,471.9 388.5,473.5 389.3,475.0 390.2,476.6 391.0,478.1 392.6,479.2 394.3,480.3 395.9,481.4 397.2,480.3 398.5,479.2 399.8,478.1 400.3,476.5 400.8,474.9 401.3,473.3 401.8,471.8 402.3,470.2 402.8,468.6 403.3,467.0 403.8,465.4 404.2,463.7 404.7,462.0 405.2,460.3 405.7,458.5 406.2,456.8 406.7,455.1 407.2,453.4 407.7,451.8 408.3,450.0 409.0,448.9 409.6,447.2 410.2,445.6 410.9,443.9 411.5,442.9 412.1,441.5 412.7,439.5 413.4,438.4 414.0,436.6 415.0,435.0 415.9,433.5 416.9,432.3 417.9,430.8 418.9,428.8 419.8,427.6 420.8,425.7 422.3,425.0 423.7,423.6 425.2,422.8 426.7,421.7 428.1,420.3 429.6,419.4 431.2,418.2 432.9,417.2 434.5,416.7 436.1,415.6 437.8,414.9 439.4,414.2 440.6,413.1 441.7,411.7 442.9,410.5 444.0,409.8 445.2,408.3 446.4,407.5 447.5,406.3 448.7,404.8 449.8,403.7 451.0,402.5 452.3,401.5 453.6,400.4 454.9,399.3 456.2,398.3 457.6,397.4 458.9,396.0 460.2,394.9 461.5,394.0 462.8,392.6 464.4,392.2 466.1,392.1 467.7,391.3 469.3,390.8 471.0,390.0 472.6,389.7 474.3,390.1 475.9,390.0 477.6,390.6 479.3,390.8 481.0,390.7 482.6,391.2 484.3,391.4 485.8,390.7 487.2,389.7 488.7,389.1 490.1,388.3 491.6,387.1 493.1,386.3 494.5,385.9 496.0,385.3 497.5,384.0 498.9,383.2 500.4,382.5 501.9,381.4 503.3,380.6 504.8,379.7 506.2,378.9 507.7,378.2 509.3,377.4 511.0,376.9 512.6,376.5 514.2,375.5 515.9,375.2 517.5,374.7 519.1,374.8 520.8,375.0 522.4,375.6 524.0,375.5 526.2,375.4 527.6,376.9 528.9,378.3 530.2,379.3 531.5,378.1 532.7,376.8 534.0,375.8 536.0,375.8 538.0,376.2 539.9,376.0 541.9,376.3 543.5,377.4 545.0,378.5 546.6,379.1 548.1,379.9 549.7,380.8 551.2,381.9 552.6,382.6 554.0,383.8 555.4,384.7 556.7,385.2 558.1,386.1 559.5,387.3 560.8,388.1 562.2,389.1 563.6,389.9 564.9,390.8 566.3,392.0 567.7,393.4 569.0,394.1 570.4,395.3 571.7,396.4 573.1,397.5 574.7,398.4 576.2,399.7 577.8,400.2 579.4,401.1 580.9,402.7 582.5,403.6 584.5,403.7 586.4,403.4 588.3,403.7 590.3,403.7 591.9,403.8 593.4,404.8 595.0,405.4 596.6,406.0 598.1,406.5 599.7,407.0 601.2,407.6 602.8,408.1 604.4,408.6 605.9,409.4 607.5,409.8 609.1,410.7 610.6,410.8 612.2,411.8 613.5,412.9 614.8,414.2 616.1,415.3 617.4,416.5 618.7,417.5 620.0,418.3 621.4,419.7 622.8,420.3 624.2,421.3 625.6,422.5 626.9,423.4 628.3,424.3 629.7,425.6 631.1,426.3 632.5,427.1 633.8,428.4 635.1,430.0 636.4,431.1 637.7,432.6 639.0,433.6 640.3,435.0 641.2,436.6 642.1,438.1 643.0,439.7 643.9,441.2 644.8,442.8 645.7,444.3 646.6,445.9 647.3,447.5 648.0,449.0 648.7,450.6 649.4,452.2 650.0,453.7 650.7,455.3 651.4,456.9 652.1,458.4 652.8,460.0 653.3,461.6 653.8,463.1 654.4,464.7 654.9,466.3 655.4,467.8 655.9,469.4 656.5,471.0 657.0,472.5 657.5,474.1 658.0,475.7 658.5,477.2 659.0,478.8 659.5,480.4 659.9,481.9 660.4,483.5 660.9,485.0 661.4,486.6 662.0,488.1 662.7,489.6 663.3,491.1 664.0,492.6 664.6,494.1 665.3,495.6 665.7,497.2 666.1,498.7 666.5,500.3 666.9,501.9 667.2,503.4 667.6,505.0 668.0,506.6 668.4,508.1 668.8,509.7 669.2,511.2 669.4,512.9 669.6,514.6 669.8,516.3 670.0,518.0 670.2,519.7 670.4,521.4 670.6,523.1 670.8,524.8 671.0,526.5 671.2,528.2 671.4,529.9 671.6,531.6 671.9,533.3 672.1,535.1 672.4,536.8 672.6,538.5 672.9,540.3 673.1,542.0 673.4,543.7 673.6,545.5 673.9,547.2 674.3,549.0 674.7,550.8 675.1,552.7 675.5,554.5 675.9,556.3 676.2,558.1 677.2,559.7 678.2,561.2 679.2,562.8 680.2,564.4 682.5,564.4 683.0,562.8 683.4,561.3 683.9,559.7 684.3,558.2 684.8,556.6 685.0,554.9 685.2,553.2 685.4,551.5 685.6,549.8 685.8,548.1 686.0,546.4 686.2,544.7 686.4,543.0 686.6,541.3 686.8,539.6 687.0,537.9 687.2,536.2 687.5,534.5 687.7,532.8 688.0,531.1 688.2,529.4 688.5,527.7 688.7,526.0 689.0,524.3 689.2,522.6 689.5,520.9 689.7,519.2 690.0,517.5 690.7,515.8 691.4,514.0 692.0,512.2 692.7,510.5 693.3,512.2 693.9,514.0 694.4,515.8 695.0,517.5 695.3,519.1 695.7,520.6 696.0,522.2 696.4,523.8 696.7,525.3 697.1,526.9 697.4,528.5 697.8,530.0 698.1,531.6 698.5,533.2 699.0,534.9 699.4,536.5 699.9,538.2 700.3,539.9 700.7,541.5 701.2,543.1 701.6,544.8 702.1,543.1 702.5,541.4 703.0,539.8 703.5,538.1 703.9,536.4 704.4,534.7 705.2,533.0 706.0,531.2 706.7,529.5 707.5,527.7 708.5,526.1 709.5,524.5 710.4,523.0 711.4,521.4 712.0,519.7 712.5,518.1 713.1,516.4 713.6,514.7 714.2,513.0 714.7,511.4 715.3,509.7 715.6,508.1 716.0,506.6 716.3,505.0 716.7,503.4 717.0,501.9 717.4,500.3 717.7,498.8 718.2,497.0 718.6,495.3 719.1,493.6 719.5,491.9 720.0,490.2 721.6,489.2 723.1,488.2 724.7,487.2 726.2,486.2 727.2,484.7 728.1,483.1 729.0,481.6 730.0,480.1 730.9,478.5 733.0,476.5 733.9,478.2 734.7,479.9 735.6,481.6 735.8,483.3 736.1,485.0 736.3,486.7 736.6,488.5 736.8,490.2 737.0,491.9 737.3,493.6 737.5,495.3 737.8,497.0 738.0,498.8 738.2,500.4 738.4,502.1 738.6,503.8 738.8,505.5 739.0,507.2 739.1,508.9 739.3,510.6 739.5,512.3 739.7,514.0 739.9,515.7 740.1,517.4 740.3,519.1 740.6,520.9 740.9,522.6 741.2,524.4 741.5,526.1 741.8,527.9 742.1,529.6 742.4,531.4 742.7,533.1 743.3,534.7 743.8,536.2 744.4,537.8 744.9,539.4 745.5,541.0 746.0,542.5 746.6,544.1 747.0,545.7 747.5,547.2 747.9,548.8 748.4,550.3 748.8,551.9 749.3,553.4 749.7,555.0 750.3,556.8 750.9,558.5 751.4,560.2 752.0,562.0 753.6,561.6 755.2,561.2 755.6,559.7 756.0,558.1 756.4,556.6 756.8,555.0 757.1,553.4 757.5,551.9 757.9,550.3 758.3,548.8 759.3,547.4 760.2,546.0 761.2,544.7 762.2,543.3 763.4,545.2 764.5,547.2 764.7,548.9 765.0,550.6 765.2,552.4 765.5,554.1 765.7,555.8 765.9,557.5 766.2,559.2 766.4,561.0 766.7,562.7 766.9,564.4 769.2,564.4 769.4,562.7 769.6,560.9 769.7,559.2 769.9,557.4 770.1,555.7 770.3,554.0 770.4,552.2 770.6,550.5 770.8,548.8 772.0,547.3 773.3,545.8 774.1,547.6 774.8,549.4 775.6,551.2 775.9,553.1 776.2,554.9 776.5,556.7 776.9,558.6 777.2,560.4 777.5,562.2 779.5,562.2 779.7,560.5 780.0,558.9 780.2,557.2 780.4,555.5 780.6,553.8 780.9,552.2 781.1,550.5 782.3,549.0 783.5,547.6 784.6,546.2 785.8,544.7 787.9,544.5 789.9,544.4 792.0,544.2 792.6,545.9 793.3,547.6 794.0,549.3 794.6,551.0 795.2,552.7 795.9,554.4 797.5,554.8 799.0,555.2 800.6,555.6 801.2,557.1 801.9,558.6 802.5,560.0 803.2,561.5 803.9,563.0 804.5,564.5 806.1,564.0 807.6,563.5 809.2,563.0 809.5,564.7 809.9,566.3 810.2,568.0 810.6,569.7 810.9,571.4 811.3,573.0 811.6,574.7 811.9,576.4 812.1,578.2 812.4,579.9 812.6,581.6 812.9,583.4 813.1,585.1 813.4,586.8 813.6,588.6 813.9,590.3 814.2,592.1 814.4,593.9 814.7,595.8 815.0,597.6 815.2,599.4 815.5,601.2 818.6,601.2 819.4,599.5 820.2,597.7 820.9,596.0 821.7,594.2 822.1,596.0 822.5,597.7 822.9,599.5 823.3,601.2 823.7,603.1 824.1,604.9 824.5,606.7 824.8,608.6 825.2,610.4 825.6,612.2 827.2,613.4 828.8,614.5 830.3,613.8 831.9,613.2 833.4,612.5 834.4,613.8 835.3,615.1 836.3,616.4 837.3,617.7 838.0,619.4 838.6,621.1 839.3,622.8 839.9,624.4 840.6,626.1 841.2,627.8 842.3,629.4 843.4,630.9 844.4,632.5 846.3,632.5 848.3,632.5 848.7,630.9 849.2,629.4 849.6,627.8 850.1,626.3 850.5,624.7 851.0,623.2 851.4,621.6 851.7,620.0 852.0,618.5 852.3,616.9 852.6,615.3 853.0,613.8 853.3,612.2 853.6,610.6 853.9,609.0 854.2,607.5 854.5,605.9 855.6,604.3 856.7,602.8 857.8,601.2 858.9,599.7 860.0,598.1 860.4,596.5 860.8,595.0 861.2,593.4 861.5,591.9 861.9,590.3 862.3,588.7 862.7,587.2 863.1,585.6 863.4,583.9 863.7,582.2 864.0,580.4 864.4,578.7 864.7,577.0 865.0,575.3 865.3,573.6 865.6,571.8 865.9,570.1 866.2,568.4 866.5,566.7 866.7,565.0 866.9,563.3 867.1,561.6 867.3,559.9 867.5,558.2 867.7,556.5 868.0,554.8 868.2,553.1 868.4,551.4 868.6,549.7 868.9,548.0 869.1,546.2 869.4,544.5 869.6,542.8 869.9,541.0 870.1,539.3 870.4,537.6 870.6,535.8 870.9,534.1 871.1,532.4 871.3,530.7 871.6,529.1 871.8,527.4 872.0,525.7 872.2,524.0 872.4,522.3 872.6,520.6 872.9,519.0 873.1,517.3 873.3,515.6 873.7,514.0 874.1,512.5 874.5,510.9 874.8,509.4 875.2,507.8 875.6,506.2 876.0,504.7 876.4,503.1 878.8,501.5 878.9,503.1 879.1,504.8 879.2,506.4 879.4,508.1 879.5,509.8 879.7,511.4 879.8,513.0 880.0,514.7 880.1,516.4 880.3,518.0 880.9,520.2 881.5,522.5 881.8,520.5 882.1,518.6 882.4,516.7 882.8,514.7 882.9,513.0 883.0,511.3 883.2,509.6 883.3,507.9 883.5,506.2 883.6,504.4 883.7,502.7 883.9,501.0 884.0,499.3 884.2,497.6 884.3,495.9 884.7,494.1 885.1,492.4 885.5,490.6 885.8,488.9 886.2,487.1 886.6,485.4 887.0,483.6 887.4,481.9 888.0,480.2 888.7,478.5 889.3,476.7 890.0,475.0 890.6,473.3 892.0,472.2 893.3,471.2 894.0,472.7 894.6,474.2 895.3,475.7 896.0,477.2 896.2,478.9 896.3,480.6 896.5,482.4 896.6,484.1 896.8,485.8 897.0,487.5 897.1,489.2 897.3,491.0 897.4,492.7 897.6,494.4 897.8,496.0 898.0,497.7 898.1,499.3 898.3,501.0 898.5,502.6 898.7,504.3 898.8,505.9 899.0,507.6 899.2,509.2 900.4,508.0 901.5,506.9 902.5,505.1 903.6,503.2 904.6,501.4 906.5,501.0 908.5,500.6 909.3,502.4 910.1,504.1 910.9,505.9 911.7,507.7 912.9,508.8 914.0,510.0 915.1,511.1 916.3,512.3 917.1,514.0 917.9,515.7 918.7,517.5 919.5,519.2 920.2,520.9 920.8,522.5 921.4,524.0 921.9,525.6 922.5,527.2 923.1,528.8 923.6,530.3 924.2,531.9 925.1,533.5 926.0,535.0 926.9,536.6 927.8,538.1 928.7,539.7 929.6,541.2 930.4,542.5 931.2,544.4 932.0,546.2 932.7,547.2 933.5,549.3 934.3,551.0 934.9,552.5 935.4,554.1 936.0,554.8 936.5,557.0 937.1,558.8 937.6,559.6 938.2,561.4 939.8,560.8 941.3,560.6 942.9,559.9 943.4,561.5 943.9,563.4 944.5,564.2 945.0,565.8 945.5,567.5 946.0,569.0 946.6,570.7 947.2,573.4 947.8,575.0 948.4,576.0 950.0,575.4 951.5,574.1 953.1,573.1 955.2,573.2 957.2,573.4 959.3,573.4 960.9,573.5 962.5,573.7 964.0,574.3 965.6,574.4 966.9,573.8 968.2,572.9 969.5,571.6 971.8,572.5 972.2,574.1 972.6,575.6 973.0,577.2 973.4,578.8 973.8,580.3 974.2,581.9 974.7,583.6 975.1,585.3 975.6,587.1 976.0,588.8 976.5,590.1 978.0,589.4 979.6,588.8 980.2,587.3 980.8,585.7 981.4,583.5 982.0,581.9 982.3,580.3 982.7,578.8 983.0,577.2 983.3,575.6 983.6,574.0 984.0,572.5 984.3,571.2 985.3,569.7 986.2,568.1 987.2,566.7 988.2,565.5 989.8,565.2 991.3,564.4 992.9,564.1 994.2,562.6 995.5,561.0 996.8,560.0 997.3,558.6 997.9,556.4 998.4,555.2 998.9,553.7 999.5,552.5 1000.0,551.0 1001.0,549.1 1002.0,547.8 1002.0,549.4 1002.0,551.1 1002.0,552.8 1002.0,554.4 1002.0,556.0 1002.0,557.7 1002.0,559.4 1002.0,561.0"/>
</g>
<g fill="none" stroke-width="3.9" stroke-linecap="butt">
<line stroke="#0000ff" x1="254.5" y1="86.3" x2="335" y2="86.3"/>
<line stroke="#ff0000" x1="254.5" y1="124" x2="335" y2="124"/>
<line stroke="#00ff00" x1="254.5" y1="161.5" x2="335" y2="161.5"/>
</g>
<g stroke="#000" stroke-width="3.7" fill="none" stroke-linecap="round" stroke-linejoin="round"><line x1="389.3" y1="479.8" x2="364.4" y2="518.3"/><polyline points="367.0,499.6 364.4,518.3 382.2,508.7"/></g>
<g stroke="#000" stroke-width="3.7" fill="none" stroke-linecap="round" stroke-linejoin="round"><line x1="671.3" y1="320.8" x2="646.0" y2="346.6"/><polyline points="651.6,328.2 646.0,346.6 664.4,340.5"/></g>
<g stroke="#000" stroke-width="3.7" fill="none" stroke-linecap="round" stroke-linejoin="round"><line x1="724.8" y1="427.3" x2="738.1" y2="450.8"/><polyline points="723.6,439.8 738.1,450.8 738.1,434.2"/></g>
<g stroke="#000" stroke-width="3.7" fill="none" stroke-linecap="round" stroke-linejoin="round"><line x1="671.3" y1="559.8" x2="639.0" y2="585.0"/><polyline points="646.4,568.2 639.0,585.0 658.4,581.7"/></g>
<g font-family="'Liberation Sans', Arial, sans-serif" fill="#000">
<text x="128.8" y="774" font-size="27.5" text-anchor="middle" stroke="#000" stroke-width="0.3">4000</text>
<text x="322.8" y="774" font-size="27.5" text-anchor="middle" stroke="#000" stroke-width="0.3">3200</text>
<text x="516.8" y="774" font-size="27.5" text-anchor="middle" stroke="#000" stroke-width="0.3">2400</text>
<text x="710.8" y="774" font-size="27.5" text-anchor="middle" stroke="#000" stroke-width="0.3">1600</text>
<text x="904.8" y="774" font-size="27.5" text-anchor="middle" stroke="#000" stroke-width="0.3">800</text>
<text x="105.6" y="735.4" font-size="27.5" text-anchor="end" stroke="#000" stroke-width="0.3">60</text>
<text x="105.6" y="533.5" font-size="27.5" text-anchor="end" stroke="#000" stroke-width="0.3">80</text>
<text x="105.6" y="331.6" font-size="27.5" text-anchor="end" stroke="#000" stroke-width="0.3">100</text>
<text x="105.6" y="129.7" font-size="27.5" text-anchor="end" stroke="#000" stroke-width="0.3">120</text>
<text x="414.6" y="835.8" font-size="34.5" stroke="#000" stroke-width="0.35">Wavenumber (cm<tspan font-size="19.5" dy="-19.6" dx="-0.5" stroke-width="0.6">-1</tspan><tspan dy="19.6" dx="2.2">)</tspan></text>
<text transform="translate(34.9,537.3) rotate(-90)" font-size="34.5" textLength="279.5" lengthAdjust="spacingAndGlyphs" stroke="#000" stroke-width="0.6">Transmittance (%)</text>
<text x="339.6" y="96.0" font-size="24.8" font-weight="bold" stroke="#000" stroke-width="0.35" textLength="52.6" lengthAdjust="spacingAndGlyphs" fill="#000">ONC</text>
<text x="339.6" y="134.0" font-size="24.8" font-weight="bold" stroke="#000" stroke-width="0.35" textLength="91.4" lengthAdjust="spacingAndGlyphs" fill="#000">ONC-PR</text>
<text x="339.6" y="171.6" font-size="24.8" font-weight="bold" stroke="#000" stroke-width="0.35" textLength="125.2" lengthAdjust="spacingAndGlyphs" fill="#000">ONC-g-PCL</text>
<text x="327.6" y="543.0" font-size="23.2" font-weight="bold" stroke="#000" stroke-width="0.35" textLength="126.5" lengthAdjust="spacingAndGlyphs" fill="#000">Alkyl chains</text>
<text x="581.0" y="369.8" font-size="23.2" font-weight="bold" stroke="#000" stroke-width="0.35" textLength="95.6" lengthAdjust="spacingAndGlyphs" fill="#000">C=O acid</text>
<text x="661.8" y="476.2" font-size="23.2" font-weight="bold" stroke="#000" stroke-width="0.35" textLength="118.0" lengthAdjust="spacingAndGlyphs" fill="#000">C=O amide</text>
<text x="581.3" y="609.4" font-size="23.2" font-weight="bold" stroke="#000" stroke-width="0.35" textLength="106.2" lengthAdjust="spacingAndGlyphs" fill="#000">C=O ester</text>
<text x="953.5" y="242.4" font-size="23.0" font-weight="bold" stroke="#0000ff" stroke-width="0.35" textLength="31.0" lengthAdjust="spacingAndGlyphs" fill="#0000ff">(a)</text>
<text x="953.8" y="403.5" font-size="23.0" font-weight="bold" stroke="#ff0000" stroke-width="0.35" textLength="31.5" lengthAdjust="spacingAndGlyphs" fill="#ff0000">(b)</text>
<text x="960.0" y="556.0" font-size="23.0" font-weight="bold" stroke="#00ff00" stroke-width="0.35" textLength="30.5" lengthAdjust="spacingAndGlyphs" fill="#00ff00">(c)</text>
</g>
</svg>
</body>
</html>
